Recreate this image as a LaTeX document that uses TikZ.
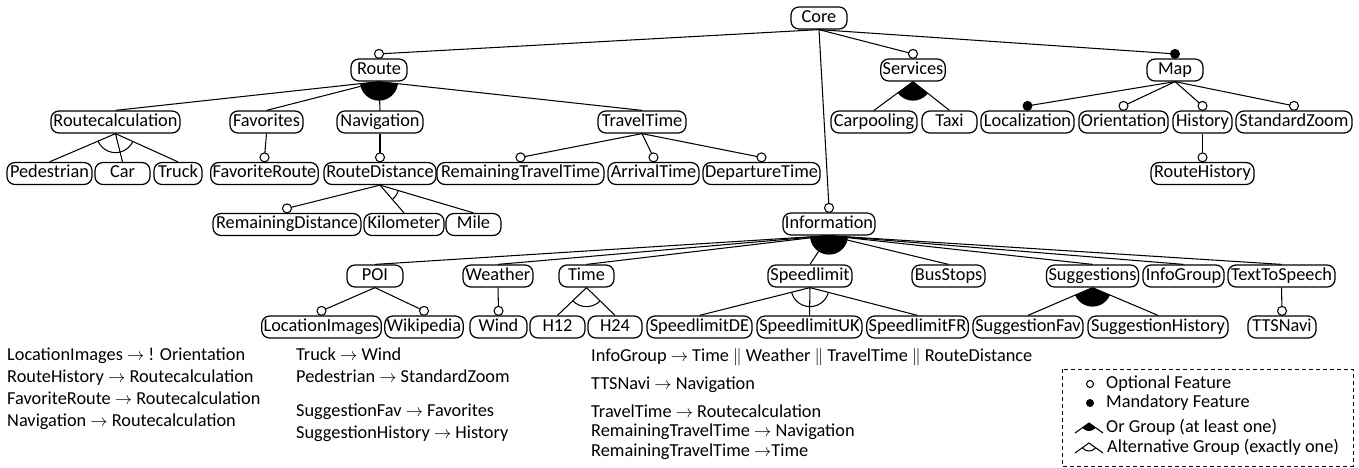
\documentclass[tikz,border=0pt]{standalone}
\usepackage{fontspec}
\setmainfont{Carlito}
\usetikzlibrary{calc}
\newcommand\fsz{\fontsize{18.3}{21}\selectfont}
\newcommand\optE[2]{\draw[edge] (#1.south) -- ($(#2.north)+(0,-4.5)$); \draw[edge,fill=white] ($(#2.north)+(0,-4.5)$) circle[radius=4.5pt];}
\newcommand\manE[2]{\draw[edge] (#1.south) -- ($(#2.north)+(0,-4.5)$); \fill ($(#2.north)+(0,-4.5)$) circle[radius=5pt];}
\newcommand\plainE[2]{\draw[edge] (#1.south) -- (#2.north);}
\newcommand\orG[3]{\begin{scope}\clip (#1.south) circle[radius=19pt]; \fill (#1.south) -- (#2.north) -- (#3.north) -- cycle;\end{scope}}
\newcommand\altG[3]{\begin{scope}\clip (#1.south) -- (#2.north) -- (#3.north) -- cycle; \draw[edge] (#1.south) circle[radius=19pt];\end{scope}}
\begin{document}
\begin{tikzpicture}[x=1pt,y=-1pt,
  feat/.style={draw, rounded corners=8pt, minimum width=55pt, minimum height=22pt, inner xsep=2pt, inner ysep=0pt, text height=12.5pt, text depth=4pt, line width=1.25pt, font=\fsz},
  edge/.style={line width=1.05pt},
  txt/.style={anchor=west, inner sep=0pt, text height=12.5pt, text depth=4pt, font=\fsz},
]
\useasboundingbox (0,0) rectangle (1359,467);
% level 0
\node[feat, minimum width=56pt] (core) at (819,18) {Core};
% level 1
\node[feat, minimum width=56pt] (route) at (379,70) {Route};
\node[feat, minimum width=64pt] (services) at (913,70) {Services};
\node[feat, minimum width=56pt] (map) at (1175,70) {Map};
% level 2
\node[feat, minimum width=129pt] (rcalc) at (115.5,122) {Routecalculation};
\node[feat, minimum width=73pt] (fav) at (266.5,122) {Favorites};
\node[feat, minimum width=86pt] (nav) at (380,122) {Navigation};
\node[feat, minimum width=88pt] (ttime) at (642,122) {TravelTime};
\node[feat, minimum width=86pt] (carp) at (874,122) {Carpooling};
\node[feat, minimum width=55pt] (taxi) at (949.5,122) {Taxi};
\node[feat, minimum width=93pt] (loc) at (1027.5,122) {Localization};
\node[feat, minimum width=89pt] (orient) at (1123.5,122) {Orientation};
\node[feat, minimum width=59pt] (hist) at (1202.5,122) {History};
\node[feat, minimum width=116pt] (szoom) at (1294,122) {StandardZoom};
% level 3
\node[feat, minimum width=85pt] (ped) at (49.5,173.5) {Pedestrian};
\node[feat, minimum width=55pt] (car) at (122.5,173.5) {Car};
\node[feat, minimum width=48pt] (truck) at (178,173.5) {Truck};
\node[feat, minimum width=105pt] (favr) at (264.5,173.5) {FavoriteRoute};
\node[feat, minimum width=112pt] (rdist) at (380,173.5) {RouteDistance};
\node[feat, minimum width=167pt] (rtt) at (520.5,173.5) {RemainingTravelTime};
\node[feat, minimum width=91pt] (arr) at (653.5,173.5) {ArrivalTime};
\node[feat, minimum width=117pt] (dep) at (761.5,173.5) {DepartureTime};
\node[feat, minimum width=103pt] (rhist) at (1202.5,173.5) {RouteHistory};
% level 4
\node[feat, minimum width=148pt] (rdistrem) at (287,224.5) {RemainingDistance};
\node[feat, minimum width=80pt] (km) at (404,224.5) {Kilometer};
\node[feat, minimum width=55pt] (mile) at (473.5,224.5) {Mile};
\node[feat, minimum width=92pt] (info) at (829,224) {Information};
% level 5
\node[feat, minimum width=56pt] (poi) at (375,276) {POI};
\node[feat, minimum width=70pt] (weather) at (498,276) {Weather};
\node[feat, minimum width=55pt] (time) at (586.5,276) {Time};
\node[feat, minimum width=84pt] (speed) at (810,276) {Speedlimit};
\node[feat, minimum width=73pt] (bus) at (948.5,276) {BusStops};
\node[feat, minimum width=91pt] (sugg) at (1092.5,276) {Suggestions};
\node[feat, minimum width=81pt] (igroup) at (1183.5,276) {InfoGroup};
\node[feat, minimum width=107pt] (tts) at (1281.5,276) {TextToSpeech};
% level 6
\node[feat, minimum width=119pt] (limg) at (321.5,327) {LocationImages};
\node[feat, minimum width=78pt] (wiki) at (424,327) {Wikipedia};
\node[feat, minimum width=57pt] (wind) at (498.5,327) {Wind};
\node[feat, minimum width=55pt] (h12) at (557.5,327) {H12};
\node[feat, minimum width=54pt] (h24) at (615,327) {H24};
\node[feat, minimum width=105pt] (sde) at (699.5,327) {SpeedlimitDE};
\node[feat, minimum width=105pt] (suk) at (809.5,327) {SpeedlimitUK};
\node[feat, minimum width=101pt] (sfr) at (917.5,327) {SpeedlimitFR};
\node[feat, minimum width=110pt] (sfav) at (1028,327) {SuggestionFav};
\node[feat, minimum width=140pt] (shist) at (1158,327) {SuggestionHistory};
\node[feat, minimum width=68pt] (ttsnavi) at (1282,327) {TTSNavi};
% edges
\optE{core}{route} \optE{core}{services} \manE{core}{map} \optE{core}{info}
\plainE{route}{rcalc} \plainE{route}{fav} \plainE{route}{nav} \plainE{route}{ttime}
\orG{route}{rcalc}{ttime}
\plainE{rcalc}{ped} \plainE{rcalc}{car} \plainE{rcalc}{truck}
\altG{rcalc}{ped}{truck}
\optE{fav}{favr} \optE{nav}{rdist}
\optE{rdist}{rdistrem} \plainE{rdist}{km} \plainE{rdist}{mile}
\altG{rdist}{km}{mile}
\optE{ttime}{rtt} \optE{ttime}{arr} \optE{ttime}{dep}
\plainE{services}{carp} \plainE{services}{taxi}
\orG{services}{carp}{taxi}
\manE{map}{loc} \optE{map}{orient} \optE{map}{hist} \optE{map}{szoom}
\optE{hist}{rhist}
\plainE{info}{poi} \plainE{info}{weather} \plainE{info}{time} \plainE{info}{speed}
\plainE{info}{bus} \plainE{info}{sugg} \plainE{info}{igroup} \plainE{info}{tts}
\orG{info}{poi}{tts}
\optE{poi}{limg} \optE{poi}{wiki}
\optE{weather}{wind}
\plainE{time}{h12} \plainE{time}{h24}
\altG{time}{h12}{h24}
\plainE{speed}{sde} \plainE{speed}{suk} \plainE{speed}{sfr}
\altG{speed}{sde}{sfr}
\plainE{sugg}{sfav} \plainE{sugg}{shist}
\orG{sugg}{sfav}{shist}
\optE{tts}{ttsnavi}
% constraints
\node[txt] (c11) at (7,356.7) {LocationImages $\rightarrow$ ! Orientation};
\node[txt] (c12) at (7,378.4) {RouteHistory $\rightarrow$ Routecalculation};
\node[txt] (c13) at (7,400.1) {FavoriteRoute $\rightarrow$ Routecalculation};
\node[txt] (c14) at (7,421.8) {Navigation $\rightarrow$ Routecalculation};
\node[txt] (c21) at (296,356.7) {Truck $\rightarrow$ Wind};
\node[txt] (c22) at (296,378.4) {Pedestrian $\rightarrow$ StandardZoom};
\node[txt] (c23) at (296,412.7) {SuggestionFav $\rightarrow$ Favorites};
\node[txt] (c24) at (296,434.4) {SuggestionHistory $\rightarrow$ History};
\node[txt] (c31) at (591,357) {InfoGroup $\rightarrow$ Time $\|$ Weather $\|$ TravelTime $\|$ RouteDistance};
\node[txt] (c32) at (591,385) {TTSNavi $\rightarrow$ Navigation};
\node[txt] (c33) at (591,413) {TravelTime $\rightarrow$ Routecalculation};
\node[txt] (c34) at (591,432.5) {RemainingTravelTime $\rightarrow$ Navigation};
\node[txt] (c35) at (591,452) {RemainingTravelTime $\rightarrow$Time};
% legend
\draw[line width=0.9pt, dash pattern=on 4pt off 3pt] (1062,369) rectangle (1353,466);
\draw[edge,fill=white] (1090,384) circle[radius=3.5pt];
\node[txt] (lgopt) at (1106,384) {Optional Feature};
\fill (1090,403) circle[radius=4pt];
\node[txt] (lgman) at (1106,403) {Mandatory Feature};
\coordinate (ora) at (1089,423);
\coordinate (orl) at (1075,433);
\coordinate (orr) at (1103,433);
\draw[edge] (orl) -- (ora) -- (orr);
\begin{scope}\clip (ora) circle[radius=8pt]; \fill (ora) -- (orl) -- (orr) -- cycle;\end{scope}
\node[txt] (lgor) at (1106,428) {Or Group (at least one)};
\coordinate (ala) at (1089,443);
\coordinate (all) at (1075,453);
\coordinate (alr) at (1103,453);
\draw[edge] (all) -- (ala) -- (alr);
\begin{scope}\clip (ala) -- (all) -- (alr) -- cycle; \draw[edge] (ala) circle[radius=8pt];\end{scope}
\node[txt] (lgalt) at (1107,448) {Alternative Group (exactly one)};
\end{tikzpicture}
\end{document}
